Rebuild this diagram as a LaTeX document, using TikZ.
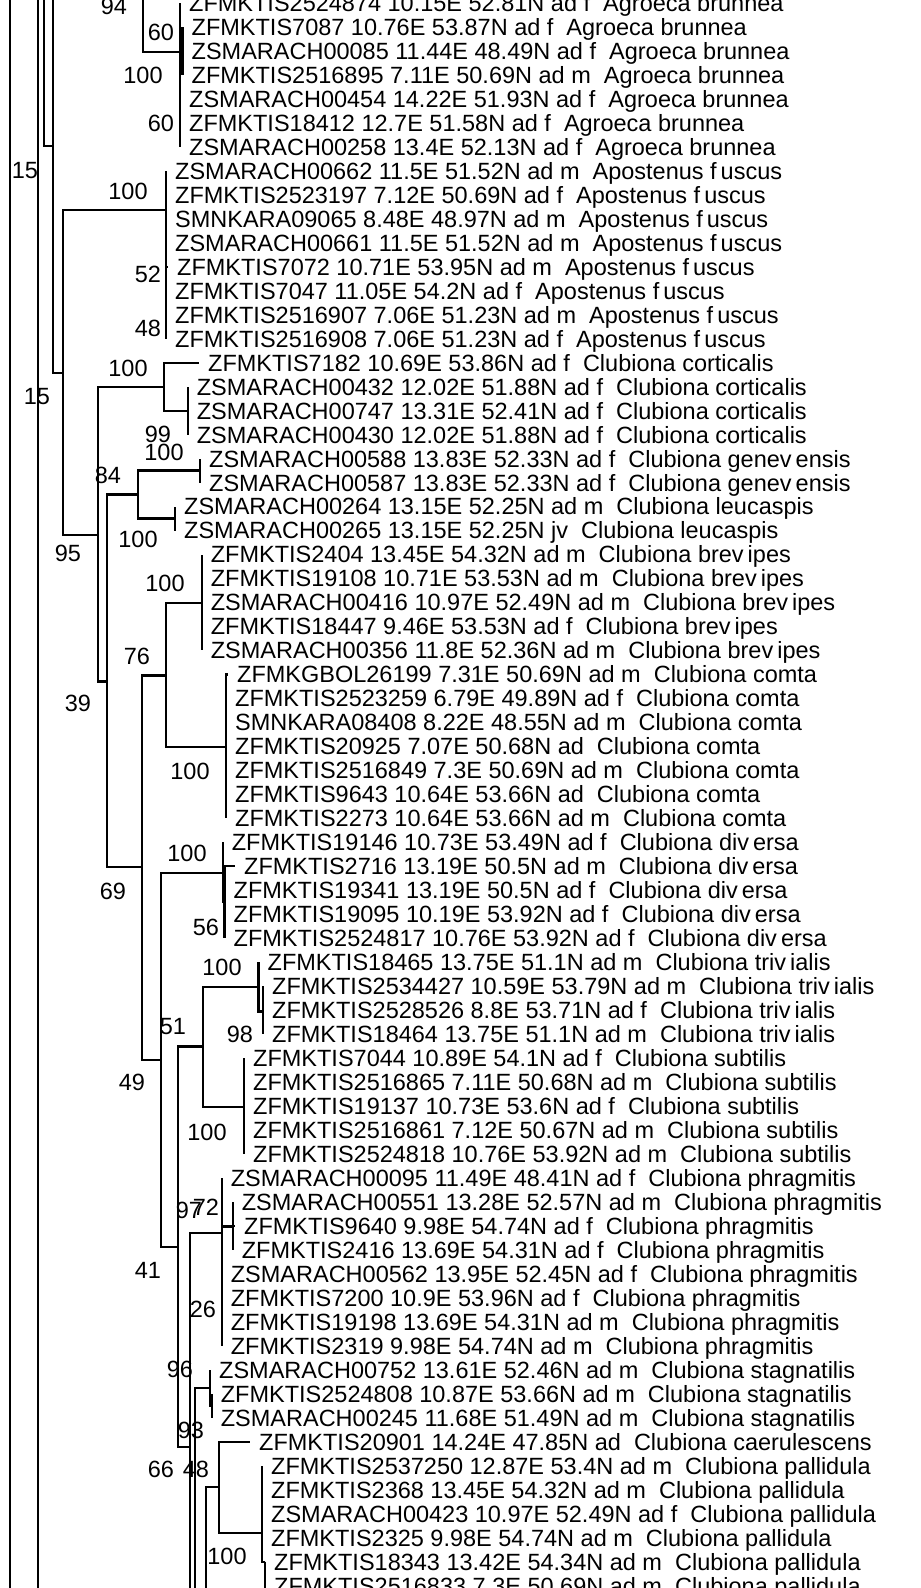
\documentclass[tikz,border=0pt]{standalone}
\usepackage{fontspec}
\setmainfont{Liberation Sans}
\newcommand{\vgap}{\kern4pt}

\begin{document}
\begin{tikzpicture}[x=1pt, y=-23.98pt, line width=2.3pt,
    every node/.style={font=\fontsize{23.5}{24}\selectfont, text height=16.8pt, text depth=0pt, inner ysep=0pt},
    taxon/.style={anchor=west, inner xsep=8pt},
    support/.style={inner xsep=0pt},
    elbow/.style={to path={|- (\tikztotarget)}}]
\useasboundingbox (0,-0.125) rectangle (921,66.097);
\clip (0,-0.125) rectangle (921,66.097);

% internal nodes (x in px, y in rows)
\coordinate (d10a) at (10,-1);     \coordinate (d10b) at (10,68);
\coordinate (d38a) at (38,-1);     \coordinate (d38b) at (38,68);
\coordinate (n44) at (44,-1);      \coordinate (u53) at (53,-1);
\coordinate (n53) at (53,5.96);    \coordinate (n143) at (143,-1);
\coordinate (nAgr) at (180,2.04);  \coordinate (nAgr2) at (182.5,2);
\coordinate (n62) at (62.7,15.43); \coordinate (nApo) at (166,8.63);
\coordinate (n98) at (98,22.19);   \coordinate (nCor) at (164,16);
\coordinate (nCor2) at (187.7,17); \coordinate (n107) at (107,28.3);
\coordinate (nGL) at (138,20.5);   \coordinate (nGen) at (200,19.5);
\coordinate (nLeu) at (175,21.5);  \coordinate (n142) at (142,36.04);
\coordinate (n166) at (166,28.05); \coordinate (nBre) at (201.7,25.03);
\coordinate (nCom) at (226,31.04); \coordinate (n161) at (161,44.08);
\coordinate (nDiv) at (222.7,36.27); \coordinate (nDiv2) at (224.5,37.5);
\coordinate (n178) at (178,51.87); \coordinate (n203) at (203.3,43.52);
\coordinate (nTri) at (258.5,41.02); \coordinate (nTri2) at (263,42.06);
\coordinate (nSub) at (244,46.03); \coordinate (n190) at (190,60.21);
\coordinate (nPhr) at (221.7,51.28); \coordinate (nPhr2) at (232.7,51.02);
\coordinate (n195) at (195,69.1);  \coordinate (nSta) at (210,57.77);
\coordinate (nSta2) at (211.7,58.5); \coordinate (n206) at (206,67.5);
\coordinate (nCae) at (219,61.87); \coordinate (nPal) at (262,63.79);
\coordinate (nPal2) at (265,65);   \coordinate (d265) at (265,67);

% taxa
\foreach \r/\x/\lab in {
  0/180/{ZFMKTIS2524874 10.15E 52.81N ad f~ Agroeca brunnea},
  1/182.5/{ZFMKTIS7087 10.76E 53.87N ad f~ Agroeca brunnea},
  2/182.5/{ZSMARACH00085 11.44E 48.49N ad f~ Agroeca brunnea},
  3/182.5/{ZFMKTIS2516895 7.11E 50.69N ad m~ Agroeca brunnea},
  4/180/{ZSMARACH00454 14.22E 51.93N ad f~ Agroeca brunnea},
  5/180/{ZFMKTIS18412 12.7E 51.58N ad f~ Agroeca brunnea},
  6/180/{ZSMARACH00258 13.4E 52.13N ad f~ Agroeca brunnea},
  7/166/{ZSMARACH00662 11.5E 51.52N ad m~ Apostenus f\vgap uscus},
  8/166/{ZFMKTIS2523197 7.12E 50.69N ad f~ Apostenus f\vgap uscus},
  9/166/{SMNKARA09065 8.48E 48.97N ad m~ Apostenus f\vgap uscus},
  10/166/{ZSMARACH00661 11.5E 51.52N ad m~ Apostenus f\vgap uscus},
  11/168/{ZFMKTIS7072 10.71E 53.95N ad m~ Apostenus f\vgap uscus},
  12/166/{ZFMKTIS7047 11.05E 54.2N ad f~ Apostenus f\vgap uscus},
  13/166/{ZFMKTIS2516907 7.06E 51.23N ad m~ Apostenus f\vgap uscus},
  14/166/{ZFMKTIS2516908 7.06E 51.23N ad f~ Apostenus f\vgap uscus},
  15/199/{ZFMKTIS7182 10.69E 53.86N ad f~ Clubiona corticalis},
  16/187.7/{ZSMARACH00432 12.02E 51.88N ad f~ Clubiona corticalis},
  17/187.7/{ZSMARACH00747 13.31E 52.41N ad f~ Clubiona corticalis},
  18/187.7/{ZSMARACH00430 12.02E 51.88N ad f~ Clubiona corticalis},
  19/200/{ZSMARACH00588 13.83E 52.33N ad f~ Clubiona genev\vgap ensis},
  20/200/{ZSMARACH00587 13.83E 52.33N ad f~ Clubiona genev\vgap ensis},
  21/175/{ZSMARACH00264 13.15E 52.25N ad m~ Clubiona leucaspis},
  22/175/{ZSMARACH00265 13.15E 52.25N jv~ Clubiona leucaspis},
  23/201.7/{ZFMKTIS2404 13.45E 54.32N ad m~ Clubiona brev\vgap ipes},
  24/201.7/{ZFMKTIS19108 10.71E 53.53N ad m~ Clubiona brev\vgap ipes},
  25/201.7/{ZSMARACH00416 10.97E 52.49N ad m~ Clubiona brev\vgap ipes},
  26/201.7/{ZFMKTIS18447 9.46E 53.53N ad f~ Clubiona brev\vgap ipes},
  27/201.7/{ZSMARACH00356 11.8E 52.36N ad m~ Clubiona brev\vgap ipes},
  28/228/{ZFMKGBOL26199 7.31E 50.69N ad m~ Clubiona comta},
  29/226/{ZFMKTIS2523259 6.79E 49.89N ad f~ Clubiona comta},
  30/226/{SMNKARA08408 8.22E 48.55N ad m~ Clubiona comta},
  31/226/{ZFMKTIS20925 7.07E 50.68N ad~ Clubiona comta},
  32/226/{ZFMKTIS2516849 7.3E 50.69N ad m~ Clubiona comta},
  33/226/{ZFMKTIS9643 10.64E 53.66N ad~ Clubiona comta},
  34/226/{ZFMKTIS2273 10.64E 53.66N ad m~ Clubiona comta},
  35/222.7/{ZFMKTIS19146 10.73E 53.49N ad f~ Clubiona div\vgap ersa},
  36/235/{ZFMKTIS2716 13.19E 50.5N ad m~ Clubiona div\vgap ersa},
  37/224.5/{ZFMKTIS19341 13.19E 50.5N ad f~ Clubiona div\vgap ersa},
  38/224.5/{ZFMKTIS19095 10.19E 53.92N ad f~ Clubiona div\vgap ersa},
  39/224.5/{ZFMKTIS2524817 10.76E 53.92N ad f~ Clubiona div\vgap ersa},
  40/258.5/{ZFMKTIS18465 13.75E 51.1N ad m~ Clubiona triv\vgap ialis},
  41/263/{ZFMKTIS2534427 10.59E 53.79N ad m~ Clubiona triv\vgap ialis},
  42/263/{ZFMKTIS2528526 8.8E 53.71N ad f~ Clubiona triv\vgap ialis},
  43/263/{ZFMKTIS18464 13.75E 51.1N ad m~ Clubiona triv\vgap ialis},
  44/244/{ZFMKTIS7044 10.89E 54.1N ad f~ Clubiona subtilis},
  45/244/{ZFMKTIS2516865 7.11E 50.68N ad m~ Clubiona subtilis},
  46/244/{ZFMKTIS19137 10.73E 53.6N ad f~ Clubiona subtilis},
  47/244/{ZFMKTIS2516861 7.12E 50.67N ad m~ Clubiona subtilis},
  48/244/{ZFMKTIS2524818 10.76E 53.92N ad m~ Clubiona subtilis},
  49/221.7/{ZSMARACH00095 11.49E 48.41N ad f~ Clubiona phragmitis},
  50/232.7/{ZSMARACH00551 13.28E 52.57N ad m~ Clubiona phragmitis},
  51/235/{ZFMKTIS9640 9.98E 54.74N ad f~ Clubiona phragmitis},
  52/232.7/{ZFMKTIS2416 13.69E 54.31N ad f~ Clubiona phragmitis},
  53/221.7/{ZSMARACH00562 13.95E 52.45N ad f~ Clubiona phragmitis},
  54/221.7/{ZFMKTIS7200 10.9E 53.96N ad f~ Clubiona phragmitis},
  55/221.7/{ZFMKTIS19198 13.69E 54.31N ad m~ Clubiona phragmitis},
  56/221.7/{ZFMKTIS2319 9.98E 54.74N ad m~ Clubiona phragmitis},
  57/210/{ZSMARACH00752 13.61E 52.46N ad m~ Clubiona stagnatilis},
  58/211.7/{ZFMKTIS2524808 10.87E 53.66N ad m~ Clubiona stagnatilis},
  59/211.7/{ZSMARACH00245 11.68E 51.49N ad m~ Clubiona stagnatilis},
  60/250/{ZFMKTIS20901 14.24E 47.85N ad~ Clubiona caerulescens},
  61/262/{ZFMKTIS2537250 12.87E 53.4N ad m~ Clubiona pallidula},
  62/262/{ZFMKTIS2368 13.45E 54.32N ad m~ Clubiona pallidula},
  63/262/{ZSMARACH00423 10.97E 52.49N ad f~ Clubiona pallidula},
  64/262/{ZFMKTIS2325 9.98E 54.74N ad m~ Clubiona pallidula},
  65/265/{ZFMKTIS18343 13.42E 54.34N ad m~ Clubiona pallidula},
  66/265/{ZFMKTIS2516833 7.3E 50.69N ad m~ Clubiona pallidula}}
  \node[taxon] (t\r) at (\x,\r) {\lab};

% support values
\foreach \x/\r/\v [count=\i] in {114/0.13/94, 161/1.21/60, 143/3.0/100, 161/5.0/60,
    25/6.96/15, 128/7.84/100, 148/11.3/52, 148/13.55/48, 128/15.22/100,
    37/16.39/15, 158/17.97/99, 164/18.72/100, 108/19.68/84, 138/22.35/100,
    68/22.94/95, 165/24.19/100, 137/27.23/76, 78/29.2/39, 190/32.03/100,
    187/35.45/100, 113/37.03/69, 206/38.53/56, 222/40.2/100, 173/42.66/51,
    240/42.99/98, 132/45.0/49, 207/47.08/100, 189/50.33/97, 206/50.2/72,
    148/52.84/41, 203/54.46/26, 180/56.96/96, 191/59.51/93, 161/61.13/66,
    196/61.13/48, 227/64.76/100}
  \node[support] (s\i) at (\x,\r) {\v};

% branches
\draw (d10a) -- (d10b) (d38a) -- (d38b);
\path[elbow] (n44) edge (n53)
  (n53) edge (u53) edge (n62)
  (n143) edge (nAgr)
  (nAgr) edge (t0) edge (nAgr2) edge (t4) edge (t5) edge (t6)
  (nAgr2) edge (t1) edge (t2) edge (t3)
  (n62) edge (nApo) edge (n98)
  (n98) edge (nCor) edge (n107)
  (nCor) edge (t15) edge (nCor2)
  (nCor2) edge (t16) edge (t17) edge (t18)
  (n107) edge (nGL) edge (n142)
  (nGL) edge (nGen) edge (nLeu)
  (nGen) edge (t19) edge (t20)
  (nLeu) edge (t21) edge (t22)
  (n142) edge (n166) edge (n161)
  (n166) edge (nBre) edge (nCom)
  (n161) edge (nDiv) edge (n178)
  (nDiv) edge (t35) edge (nDiv2)
  (nDiv2) edge (t36) edge (t37) edge (t38) edge (t39)
  (n178) edge (n203) edge (n190)
  (n203) edge (nTri) edge (nSub)
  (nTri) edge (t40) edge (nTri2)
  (nTri2) edge (t41) edge (t42) edge (t43)
  (n190) edge (nPhr) edge (n195)
  (nPhr) edge (t49) edge (nPhr2) edge (t53) edge (t54) edge (t55) edge (t56)
  (nPhr2) edge (t50) edge (t51) edge (t52)
  (n195) edge (nSta)
  (nSta) edge (t57) edge (nSta2)
  (nSta2) edge (t58) edge (t59)
  (n206) edge (nCae)
  (nCae) edge (t60) edge (nPal)
  (nPal) edge (t61) edge (t62) edge (t63) edge (t64) edge (nPal2)
  (nPal2) edge (t65) edge (t66) edge (d265);
\foreach \i in {7,...,14} \path[elbow] (nApo) edge (t\i);
\foreach \i in {23,...,27} \path[elbow] (nBre) edge (t\i);
\foreach \i in {28,...,34} \path[elbow] (nCom) edge (t\i);
\foreach \i in {44,...,48} \path[elbow] (nSub) edge (t\i);
\end{tikzpicture}
\end{document}
